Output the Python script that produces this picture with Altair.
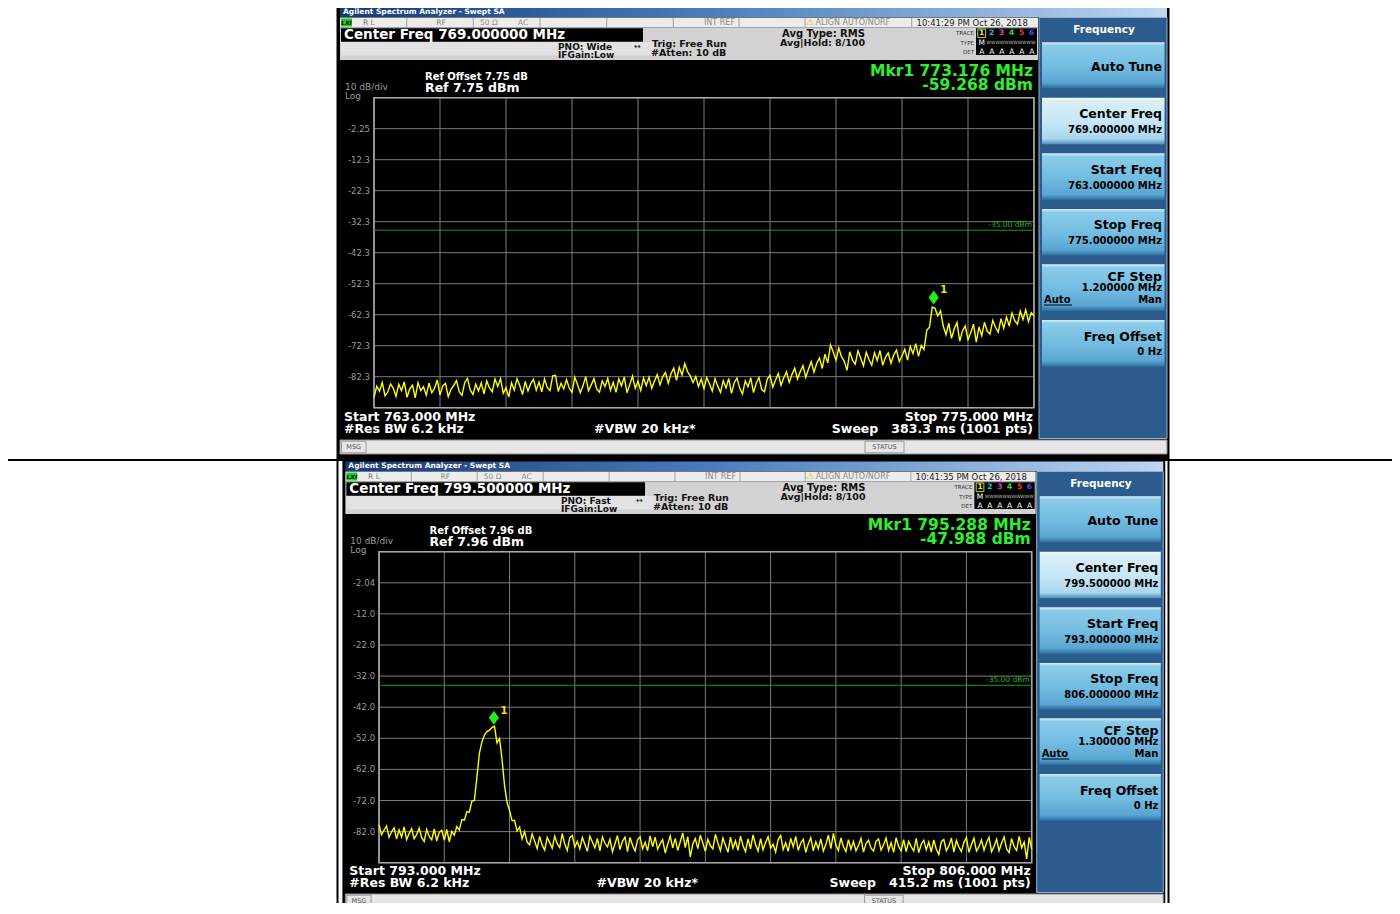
import altair as alt
import pandas as pd

FONT = "DejaVu Sans"

# ------------------------------------------------------------------ data
# Screen 1: 763 - 775 MHz, ref level 7.75 dBm (trace)
START1, STOP1, REF1 = 763.0, 775.0, 7.75
LEVEL1 = [
    -89.0, -85.3, -86.9, -84.1, -88.4, -87.2, -84.6, -85.9, -88.6, -84.7,
    -86.8, -83.9, -88.9, -86.2, -85.0, -89.1, -84.2, -86.7, -85.5, -88.2,
    -84.3, -87.4, -86.0, -83.3, -88.1, -85.2, -84.4, -88.7, -86.3, -85.1,
    -83.5, -87.1, -88.3, -84.1, -82.8, -86.5, -88.0, -84.7, -86.9, -84.3,
    -87.8, -83.6, -85.9, -87.1, -83.0, -85.4, -82.9, -87.6, -85.8, -88.8,
    -84.2, -86.6, -82.9, -85.1, -88.0, -83.8, -86.9, -84.5, -83.1, -86.6,
    -84.0, -87.1, -83.0, -85.7, -86.7, -82.0, -81.8, -87.0, -84.4, -86.2,
    -83.2, -85.9, -87.3, -82.4, -84.8, -87.4, -85.2, -82.2, -86.8, -84.9,
    -82.9, -86.3, -87.2, -83.6, -85.4, -82.8, -86.6, -84.1, -87.3, -83.0,
    -85.2, -82.3, -87.4, -84.8, -82.1, -86.0, -83.7, -86.7, -82.7, -85.1,
    -82.4, -86.0, -83.6, -81.6, -84.9, -82.2, -80.9, -84.4, -81.3, -79.5,
    -83.4, -79.2, -81.7, -78.0, -80.6, -82.0, -84.1, -82.2, -85.4, -83.0,
    -86.1, -82.5, -84.6, -86.9, -82.9, -85.3, -87.3, -83.5, -85.9, -82.8,
    -87.6, -84.2, -82.7, -86.0, -87.8, -83.6, -85.5, -82.6, -87.4, -84.3,
    -82.5, -86.4, -87.1, -83.0, -81.8, -85.6, -83.4, -81.2, -85.0, -82.6,
    -80.7, -84.1, -81.5, -79.5, -83.0, -80.6, -78.7, -82.5, -79.8, -77.4,
    -80.8, -77.9, -76.2, -79.6, -75.0, -77.8, -72.0, -74.3, -76.9, -73.0,
    -75.8, -77.3, -80.2, -74.2, -76.9, -78.2, -73.9, -76.3, -78.8, -74.4,
    -76.7, -78.5, -74.5, -77.0, -73.8, -78.6, -75.9, -74.6, -77.9, -75.2,
    -73.7, -77.4, -75.6, -73.4, -76.9, -72.5, -74.8, -71.6, -75.7, -72.2,
    -73.5, -67.3, -66.3, -59.8, -60.2, -62.6, -61.0, -65.9, -68.7, -65.0,
    -69.9, -66.8, -64.8, -70.8, -67.4, -65.9, -70.3, -68.1, -65.3, -71.1,
    -66.2, -69.0, -64.7, -67.6, -68.5, -64.1, -66.3, -67.9, -63.5, -66.6,
    -63.0, -65.9, -61.7, -64.2, -65.3, -61.1, -63.8, -60.7, -64.5, -61.6,
    -62.6,
]
MARKER1 = [773.176, -59.268]
YTICK1 = ["-2.25", "-12.3", "-22.3", "-32.3", "-42.3", "-52.3", "-62.3", "-72.3", "-82.3"]

# Screen 2: 793 - 806 MHz, ref level 7.96 dBm
START2, STOP2, REF2 = 793.0, 806.0, 7.96
LEVEL2 = [
    -79.8, -83.0, -81.6, -80.2, -83.9, -82.1, -80.8, -84.4, -81.5, -83.8,
    -80.5, -84.6, -82.7, -81.1, -84.3, -83.0, -80.9, -84.0, -85.2, -81.4,
    -83.6, -84.7, -81.2, -85.0, -82.3, -81.6, -84.8, -81.3, -85.3, -82.0,
    -83.2, -80.4, -81.5, -78.2, -78.4, -75.6, -75.8, -72.2, -72.0, -64.5,
    -56.8, -53.2, -51.0, -49.9, -49.4, -48.6, -48.1, -53.5, -52.1, -58.7,
    -67.2, -72.6, -75.3, -78.5, -78.4, -81.8, -80.6, -84.4, -82.0, -85.4,
    -86.3, -82.8, -85.1, -87.5, -83.6, -86.4, -88.0, -83.9, -85.6, -87.4,
    -83.5, -85.9, -87.2, -82.7, -86.0, -88.1, -84.0, -83.3, -87.0, -85.2,
    -87.6, -83.9, -86.1, -88.4, -83.5, -85.4, -87.3, -84.2, -88.2, -83.7,
    -85.8, -87.0, -84.5, -88.5, -86.0, -83.3, -87.8, -85.1, -83.8, -88.5,
    -83.9, -86.4, -88.3, -84.7, -83.7, -87.6, -85.5, -88.2, -83.4, -86.9,
    -83.8, -87.7, -85.9, -84.6, -88.9, -86.1, -83.5, -87.3, -84.2, -88.1,
    -85.3, -82.5, -87.2, -83.7, -90.2, -86.0, -84.3, -87.5, -83.2, -85.8,
    -88.4, -84.5, -86.6, -87.6, -82.9, -85.7, -88.2, -84.1, -86.4, -88.7,
    -83.8, -87.4, -85.0, -88.1, -83.5, -86.6, -88.5, -84.4, -87.6, -83.1,
    -86.2, -88.3, -84.3, -87.9, -85.5, -83.7, -87.4, -86.1, -88.6, -84.6,
    -83.3, -87.8, -85.6, -88.4, -84.2, -86.9, -83.6, -88.1, -85.7, -84.5,
    -88.7, -86.0, -84.0, -88.2, -85.3, -87.6, -84.4, -88.3, -86.2, -83.2,
    -87.5, -82.6, -86.4, -88.1, -84.1, -86.9, -88.4, -84.6, -87.7, -85.2,
    -88.2, -86.5, -84.2, -88.6, -85.9, -84.8, -87.4, -88.3, -85.1, -84.4,
    -88.0, -86.3, -84.1, -88.1, -85.6, -88.7, -84.0, -86.8, -88.2, -84.6,
    -88.5, -85.2, -86.9, -88.3, -84.2, -88.8, -86.1, -84.8, -87.9, -85.4,
    -88.6, -84.7, -87.7, -89.4, -85.3, -84.6, -88.2, -86.7, -84.1, -88.6,
    -84.9, -87.0, -88.4, -85.5, -84.0, -88.7, -86.2, -84.2, -88.3, -86.9,
    -84.7, -88.0, -85.6, -83.9, -88.5, -86.8, -84.5, -88.2, -85.7, -83.8,
    -87.6, -88.8, -84.3, -86.9, -88.1, -83.6, -87.3, -85.4, -90.8, -83.9,
    -87.7,
]
MARKER2 = [795.288, -47.988]
YTICK2 = ["-2.04", "-12.0", "-22.0", "-32.0", "-42.0", "-52.0", "-62.0", "-72.0", "-82.0"]

LIMIT = -35.0

NB = "\u00a0"
TEXT1 = {
    "center": "Center Freq 769.000000 MHz", "pno": "PNO: Wide",
    "time": "10:41:29 PM Oct 26, 2018", "refoff": "Ref Offset 7.75 dB",
    "ref": "Ref 7.75 dBm", "mkrf": "Mkr1 773.176 MHz", "mkrv": "-59.268 dBm",
    "start": "Start 763.000 MHz", "stop": "Stop 775.000 MHz",
    "sweep": "Sweep" + NB * 3 + "383.3 ms (1001 pts)", "cf": "769.000000 MHz",
    "sf": "763.000000 MHz", "pf": "775.000000 MHz", "step": "1.200000 MHz",
}
TEXT2 = {
    "center": "Center Freq 799.500000 MHz", "pno": "PNO: Fast",
    "time": "10:41:35 PM Oct 26, 2018", "refoff": "Ref Offset 7.96 dB",
    "ref": "Ref 7.96 dBm", "mkrf": "Mkr1 795.288 MHz", "mkrv": "-47.988 dBm",
    "start": "Start 793.000 MHz", "stop": "Stop 806.000 MHz",
    "sweep": "Sweep" + NB * 3 + "415.2 ms (1001 pts)", "cf": "799.500000 MHz",
    "sf": "793.000000 MHz", "pf": "806.000000 MHz", "step": "1.300000 MHz",
}
TRACE_COLORS = ["#f0f000", "#10c8c8", "#e030e0", "#30e030", "#ff3030", "#5050ff"]

# ------------------------------------------------------------------ layout helpers
ONE = pd.DataFrame({"k": [0]})
GRID1 = (374.0, 1034.0, 97.7, 407.7)
GRID2 = (379.0, 1031.7, 551.7, 862.7)


def T1(x, y):
    return x, y


def T2(x, y):
    return 379.0 + (x - 374.0) * 0.989, y + 454.0


def I(x, y):
    return x, y


def px(x):
    return x - 8


def py(y):
    return y - 8


def rect(T, x1, y1, x2, y2, fill, stroke=None, sw=1.0):
    a = T(x1, y1)
    b = T(x2, y2)
    kw = {"fill": fill}
    if stroke:
        kw["stroke"] = stroke
        kw["strokeWidth"] = sw
    else:
        kw["strokeWidth"] = 0
    return alt.Chart(ONE).mark_rect(**kw).encode(
        x=alt.value(px(a[0])), x2=alt.value(px(b[0])),
        y=alt.value(py(a[1])), y2=alt.value(py(b[1])))


def text(T, x, y, s, size, color, bold=True, align="left", italic=False):
    a = T(x, y)
    kw = dict(text=s, fontSize=size, color=color, font=FONT,
              fontWeight="bold" if bold else "normal", align=align, baseline="middle")
    if italic:
        kw["fontStyle"] = "italic"
    return alt.Chart(ONE).mark_text(**kw).encode(x=alt.value(px(a[0])), y=alt.value(py(a[1])))


def rule(T, x1, y1, x2, y2, color, sw=1.0):
    a = T(x1, y1)
    b = T(x2, y2)
    return alt.Chart(ONE).mark_rule(color=color, strokeWidth=sw).encode(
        x=alt.value(px(a[0])), x2=alt.value(px(b[0])),
        y=alt.value(py(a[1])), y2=alt.value(py(b[1])))


def lgrad(stops, vertical=False):
    return {"gradient": "linear", "x1": 0, "y1": 0,
            "x2": 0 if vertical else 1, "y2": 1 if vertical else 0,
            "stops": [{"offset": o, "color": c} for o, c in stops]}


TITLE_GRAD = lgrad([(0, "#163a77"), (0.45, "#4b7dbd"), (1, "#bcd6f2")])
BTN_GRAD = lgrad([(0, "#d8eff9"), (0.07, "#8acbe9"), (0.5, "#74bde2"), (0.88, "#5aa6d2"), (1, "#2b6c9e")], True)
BTN_HI = lgrad([(0, "#f6fcfe"), (0.07, "#d8eff9"), (0.5, "#c8e7f6"), (0.88, "#aad6ee"), (1, "#4d8fbe")], True)
BUTTONS = [(42.3, 88.3), (97.7, 144.3), (153.3, 200.0), (209.0, 255.7), (264.3, 311.0), (320.0, 366.7)]


def chrome(T, t):
    L = []
    L.append(rect(T, 337, 6, 1169, 459, "#000000"))
    L.append(rect(T, 340, 7.5, 1167, 17, TITLE_GRAD))
    L.append(text(T, 343, 12.4, "Agilent Spectrum Analyzer - Swept SA", 7.5, "#ffffff"))
    # status row
    L.append(rect(T, 340, 17.5, 1038, 27.5, "#ececec"))
    for xd in [406.7, 473.3, 540, 606.7, 673.3, 739, 805, 911.7]:
        L.append(rule(T, xd, 18, xd, 27, "#a0a0a0", 1))
    L.append(rect(T, 341, 18.5, 352, 26.5, "#20d020"))
    L.append(text(T, 346.5, 22.6, "LXI", 6, "#000000", align="center", italic=True))
    L.append(text(T, 363, 22.6, "R L", 7.5, "#777777", bold=False))
    L.append(text(T, 441, 22.6, "RF", 7.5, "#8a8a8a", bold=False, align="center"))
    L.append(text(T, 480, 22.6, "50 Ω", 7.5, "#8a8a8a", bold=False))
    L.append(text(T, 518, 22.6, "AC", 7.5, "#8a8a8a", bold=False))
    L.append(text(T, 735, 22.6, "INT REF", 8, "#8a8a8a", bold=False, align="right"))
    L.append(text(T, 810, 22.3, "⚠", 9, "#e0b800", bold=False, align="center"))
    L.append(text(T, 815.5, 22.6, "ALIGN AUTO/NORF", 8, "#8a8a8a", bold=False))
    L.append(text(T, 916.5, 22.6, t["time"], 8.5, "#222222", bold=False))
    # header panel
    L.append(rect(T, 340, 27.5, 1038, 60, "#d2d2d2"))
    L.append(rect(T, 341, 42, 656, 55.5, "#e2e2e2"))
    L.append(rect(T, 341, 28.3, 643, 41.7, "#000000"))
    L.append(text(T, 344, 35.2, t["center"], 13.5, "#ffffff"))
    L.append(text(T, 558, 46.6, t["pno"], 9, "#111111"))
    L.append(text(T, 641, 46.6, "↔", 8, "#111111", bold=False, align="right"))
    L.append(text(T, 558, 55.4, "IFGain:Low", 9, "#111111"))
    L.append(text(T, 652, 43.8, "Trig: Free Run", 9.5, "#111111"))
    L.append(text(T, 651, 53.4, "#Atten: 10 dB", 9.5, "#111111"))
    L.append(text(T, 782, 33.8, "Avg Type: RMS", 10, "#111111"))
    L.append(text(T, 780, 43.4, "Avg|Hold: 8/100", 9.5, "#111111"))
    for lab, yy in [("TRACE", 33.3), ("TYPE", 42.7), ("DET", 51.7)]:
        L.append(text(T, 974.0, yy, lab, 5.5, "#333333", bold=False, align="right"))
    L.append(rect(T, 976, 28.3, 1037, 55, "#000000"))
    L.append(rect(T, 977.8, 29, 985.6, 37.6, "transparent", stroke="#b8d838", sw=1))
    for k, c in enumerate(TRACE_COLORS):
        L.append(text(T, 981.7 + 10 * k, 33.3, str(k + 1), 7.5, c, align="center"))
        L.append(text(T, 981.7 + 10 * k, 51.7, "A", 7.5, "#ffffff", bold=False, align="center"))
    L.append(text(T, 981.7, 42.7, "M", 7.5, "#ffffff", bold=False, align="center"))
    L.append(text(T, 986.5, 42.9, "WWWWWWWWWWW", 4.5, "#bdbdbd", bold=False))
    # display texts
    L.append(text(T, 425, 76.8, t["refoff"], 10, "#ffffff"))
    L.append(text(T, 425, 87.6, t["ref"], 12.5, "#ffffff"))
    L.append(text(T, 345, 87.4, "10 dB/div", 9, "#9a9a9a", bold=False))
    L.append(text(T, 345, 96.0, "Log", 9, "#9a9a9a", bold=False))
    L.append(text(T, 1033, 71, t["mkrf"], 15.5, "#30ee30", align="right"))
    L.append(text(T, 1033, 85, t["mkrv"], 15.5, "#30ee30", align="right"))
    L.append(text(T, 344, 416.7, t["start"], 12.5, "#ffffff"))
    L.append(text(T, 344, 428.8, "#Res BW 6.2 kHz", 12.5, "#ffffff"))
    L.append(text(T, 594, 428.8, "#VBW 20 kHz*", 12.5, "#ffffff"))
    L.append(text(T, 1033, 416.7, t["stop"], 12.5, "#ffffff", align="right"))
    L.append(text(T, 1033, 428.8, t["sweep"], 12.5, "#ffffff", align="right"))
    # message bar
    L.append(rect(T, 340, 440, 1167, 454, "#e6e6e6", stroke="#8c8c8c", sw=1))
    L.append(rect(T, 341.5, 441.2, 366, 452.8, "#e6e6e6", stroke="#9a9a9a", sw=1))
    L.append(text(T, 353.7, 447, "MSG", 6.5, "#555555", bold=False, align="center"))
    L.append(rect(T, 865, 441.2, 904, 452.8, "#e6e6e6", stroke="#9a9a9a", sw=1))
    L.append(text(T, 884.5, 447, "STATUS", 6.5, "#555555", bold=False, align="center"))
    # soft-key panel
    L.append(rect(T, 1039, 17.5, 1167, 438.5, "#2c5c8e", stroke="#8fb0d0", sw=1))
    L.append(text(T, 1104, 30, "Frequency", 10.5, "#ffffff", align="center"))
    for i, (y0, y1) in enumerate(BUTTONS):
        L.append(rect(T, 1042, y0, 1164.5, y1, BTN_HI if i == 1 else BTN_GRAD))
    L.append(text(T, 1162, 66.7, "Auto Tune", 12.5, "#000000", align="right"))
    L.append(text(T, 1162, 114.3, "Center Freq", 12.5, "#000000", align="right"))
    L.append(text(T, 1162, 130.0, t["cf"], 10, "#000000", align="right"))
    L.append(text(T, 1162, 170.0, "Start Freq", 12.5, "#000000", align="right"))
    L.append(text(T, 1162, 185.5, t["sf"], 10, "#000000", align="right"))
    L.append(text(T, 1162, 225.2, "Stop Freq", 12.5, "#000000", align="right"))
    L.append(text(T, 1162, 240.7, t["pf"], 10, "#000000", align="right"))
    L.append(text(T, 1162, 276.7, "CF Step", 12.5, "#000000", align="right"))
    L.append(text(T, 1162, 288.3, t["step"], 10, "#000000", align="right"))
    L.append(text(T, 1044, 300.0, "Auto", 10, "#000000"))
    L.append(rule(T, 1044, 305, 1072, 305, "#000000", 1))
    L.append(text(T, 1162, 300.0, "Man", 10, "#000000", align="right"))
    L.append(text(T, 1162, 336.7, "Freq Offset", 12.5, "#000000", align="right"))
    L.append(text(T, 1162, 351.7, "0 Hz", 10, "#000000", align="right"))
    return L


def data_layers(start, stop, ref, levels, marker, yticks, grid, T):
    gl, gr, gt, gb = grid
    low = ref - 100.0
    sx = alt.Scale(domain=[start, stop], range=[px(gl), px(gr)], nice=False, zero=False)
    sy = alt.Scale(domain=[low, ref], range=[py(gb), py(gt)], nice=False, zero=False)
    n = len(levels)
    trace = pd.DataFrame({"f": [start + (stop - start) * i / (n - 1) for i in range(n)], "v": levels})
    vgrid = pd.DataFrame({"f": [start + (stop - start) * k / 10 for k in range(11)]})
    hgrid = pd.DataFrame({"v": [ref - 10 * k for k in range(11)]})
    ticks = pd.DataFrame({"v": [ref - 10 * (k + 1) for k in range(len(yticks))], "lab": yticks})
    frame = pd.DataFrame({"f0": [start], "f1": [stop], "v0": [low], "v1": [ref]})
    limit = pd.DataFrame({"f0": [start], "f1": [stop], "v": [LIMIT], "lab": [f"{LIMIT:.2f} dBm"]})
    mk = pd.DataFrame({"f": [marker[0]], "v": [marker[1]]})
    X = lambda f: alt.X(f, scale=sx, axis=None)
    Y = lambda f: alt.Y(f, scale=sy, axis=None)
    lx, _ = T(370, 0)
    L = []
    L.append(alt.Chart(vgrid).mark_rule(color="#7c7c7c", strokeWidth=1).encode(
        x=X("f:Q"), y=alt.value(py(gt)), y2=alt.value(py(gb))))
    L.append(alt.Chart(hgrid).mark_rule(color="#7c7c7c", strokeWidth=1).encode(
        y=Y("v:Q"), x=alt.value(px(gl)), x2=alt.value(px(gr))))
    L.append(alt.Chart(frame).mark_rect(fill="transparent", stroke="#a8a8a8", strokeWidth=1.6).encode(
        x=X("f0:Q"), x2="f1:Q", y=Y("v0:Q"), y2="v1:Q"))
    L.append(alt.Chart(ticks).mark_text(align="right", baseline="middle", font=FONT, fontSize=8.5,
                                        color="#9a9a9a").encode(
        x=alt.value(px(lx)), y=Y("v:Q"), text="lab:N"))
    L.append(alt.Chart(limit).mark_rule(color="#1c961c", strokeWidth=1).encode(
        x=X("f0:Q"), x2="f1:Q", y=Y("v:Q")))
    L.append(alt.Chart(limit).mark_text(align="right", baseline="middle", font=FONT, fontSize=7.5,
                                        color="#22b422", dy=-5).encode(
        x=alt.value(px(gr - 2)), y=Y("v:Q"), text="lab:N"))
    L.append(alt.Chart(trace).mark_line(color="#ffff00", strokeWidth=1.4).encode(
        x=X("f:Q"), y=Y("v:Q")))
    L.append(alt.Chart(mk).mark_point(shape="M0,-1L0.72,0L0,1L-0.72,0Z", filled=True, size=196,
                                      color="#22ee22", opacity=1, strokeWidth=0, yOffset=-8).encode(
        x=X("f:Q"), y=Y("v:Q")))
    L.append(alt.Chart(mk).mark_text(text="1", font=FONT, fontSize=10, fontWeight="bold",
                                     color="#e8e800", dx=10, dy=-15).encode(
        x=X("f:Q"), y=Y("v:Q")))
    return L


def table():
    c = "#000000"
    return [
        rect(I, 3, 4, 1394, 6, c), rect(I, 3, 4, 5, 913, c), rect(I, 1392, 4, 1394, 913, c),
        rect(I, 3, 911, 1394, 913, c), rect(I, 3, 459, 1394, 461, c),
        rect(I, 336.5, 4, 338.5, 913, c), rect(I, 1167.5, 4, 1169.5, 913, c),
    ]


layers = []
layers += table()
layers += chrome(T1, TEXT1)
layers += chrome(T2, TEXT2)
layers += data_layers(START1, STOP1, REF1, LEVEL1, MARKER1, YTICK1, GRID1, T1)
layers += data_layers(START2, STOP2, REF2, LEVEL2, MARKER2, YTICK2, GRID2, T2)

chart = alt.layer(*layers).resolve_scale(x="independent", y="independent").properties(
    width=1384, height=895, autosize=alt.AutoSizeParams(type="none"), padding=0,
    background="#ffffff",
).configure_view(stroke=None)

chart.save("out.html", embed_options={"renderer": "svg", "actions": False})
